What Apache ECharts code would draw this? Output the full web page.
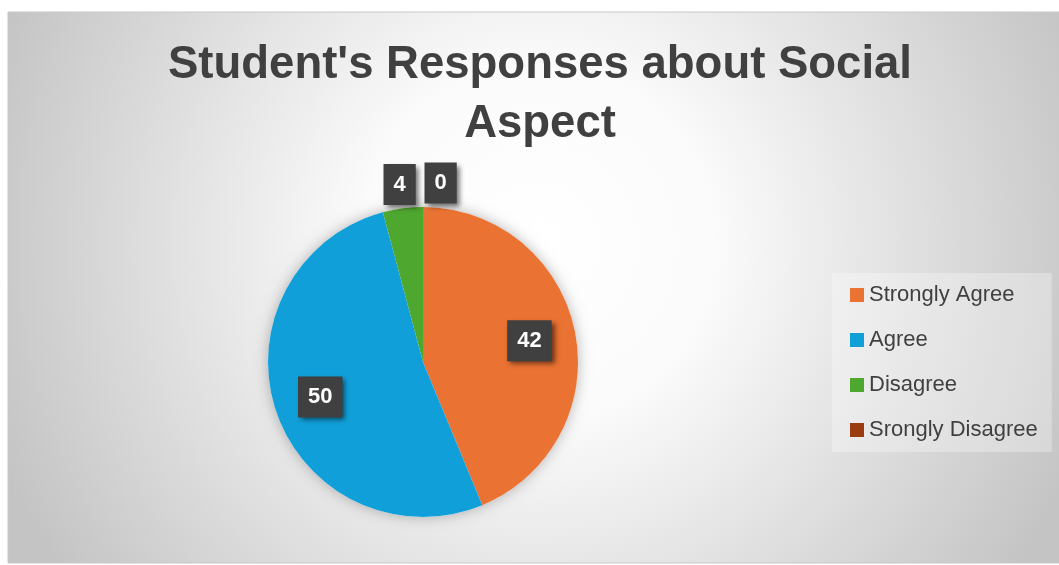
<!DOCTYPE html>
<html>
<head>
<meta charset="utf-8">
<style>
  html, body { margin: 0; padding: 0; background: #ffffff; }
  #chart { width: 1059px; height: 565px; }
</style>
<script src="https://cdn.jsdelivr.net/npm/echarts@6/dist/echarts.min.js"></script>
</head>
<body>
<div id="chart"></div>
<script>
// Survey categories and response counts
const categories = ['Strongly Agree', 'Agree', 'Disagree', 'Srongly Disagree'];
const counts = [42, 50, 4, 0];
const colors = ['#ea7232', '#109fd9', '#4ea72e', '#9a3c10'];
const titleLines = ["Student's Responses about Social", 'Aspect'];

const FONT = 'Liberation Sans, Arial, sans-serif';
const CENTER = [423, 362];
const RADIUS = 155;
const LABEL_SPAN = 220; // pixel extent of the hidden polar grid that carries the labels

const total = counts.reduce((a, b) => a + b, 0);
const isBig = v => v >= 10;

// Value labels sit on a hidden polar grid sharing the pie's centre:
// angle = running count at the slice middle, radius in pixels.
const labelPoints = counts.map((v, i) => {
  const before = counts.slice(0, i).reduce((a, b) => a + b, 0);
  const mid = before + v / 2;
  return {
    value: [isBig(v) ? RADIUS * 0.7 : RADIUS + 24, mid, v],
    label: {
      position: isBig(v) || v > 0 ? 'inside' : 'right',
      distance: 1
    }
  };
});

const labelBox = {
  show: true,
  color: '#ffffff',
  fontFamily: FONT,
  fontWeight: 'bold',
  fontSize: 22,
  backgroundColor: '#404040',
  padding: [10, 10, 9, 10],
  shadowColor: 'rgba(0,0,0,0.55)',
  shadowBlur: 5,
  shadowOffsetX: 3,
  shadowOffsetY: 3,
  formatter: p => String(p.value[2])
};

const chart = echarts.init(document.getElementById('chart'));

chart.setOption({
  animation: false,
  graphic: [{
    type: 'rect',
    z: -10,
    silent: true,
    shape: { x: 8, y: 12, width: 1060, height: 551 },
    style: {
      fill: {
        type: 'radial', x: 0.5, y: 0.42, r: 1.05,
        colorStops: [
          { offset: 0, color: '#ffffff' },
          { offset: 0.3, color: '#fbfbfb' },
          { offset: 1, color: '#c4c4c4' }
        ]
      },
      stroke: '#c8c8c8',
      lineWidth: 1
    }
  }],
  title: {
    text: titleLines.join('\n'),
    left: 535,
    textAlign: 'center',
    top: 31,
    textStyle: {
      fontFamily: FONT,
      fontWeight: 'bold',
      fontSize: 45.5,
      lineHeight: 59,
      color: '#404040'
    }
  },
  legend: {
    orient: 'vertical',
    left: 832,
    top: 273,
    padding: [11, 14, 11, 18],
    itemWidth: 14,
    itemHeight: 14,
    itemGap: 23,
    icon: 'rect',
    backgroundColor: 'rgba(255,255,255,0.3)',
    textStyle: {
      fontFamily: FONT,
      fontSize: 22,
      color: '#404040'
    },
    data: categories
  },
  polar: { center: CENTER, radius: LABEL_SPAN },
  radiusAxis: { type: 'value', min: 0, max: LABEL_SPAN, show: false },
  angleAxis: {
    type: 'value', min: 0, max: total, startAngle: 90, clockwise: true, show: false
  },
  series: [
    {
      // soft halo under the disc
      type: 'pie',
      center: CENTER,
      radius: [0, RADIUS],
      silent: true,
      legendHoverLink: false,
      z: 1,
      data: [{ name: 'disc', value: 1 }],
      itemStyle: {
        color: '#ffffff',
        shadowColor: 'rgba(0,0,0,0.28)',
        shadowBlur: 14
      },
      label: { show: false },
      labelLine: { show: false }
    },
    {
      type: 'pie',
      center: CENTER,
      radius: [0, RADIUS],
      startAngle: 90,
      clockwise: true,
      silent: true,
      z: 2,
      data: categories.map((name, i) => ({
        name: name,
        value: counts[i],
        itemStyle: { color: colors[i] }
      })),
      label: { show: false },
      labelLine: { show: false }
    },
    {
      type: 'scatter',
      coordinateSystem: 'polar',
      silent: true,
      clip: false,
      z: 3,
      symbol: 'rect',
      symbolSize: 1,
      itemStyle: { color: 'rgba(0,0,0,0)', opacity: 1 },
      label: labelBox,
      data: labelPoints
    }
  ]
});
</script>
</body>
</html>
